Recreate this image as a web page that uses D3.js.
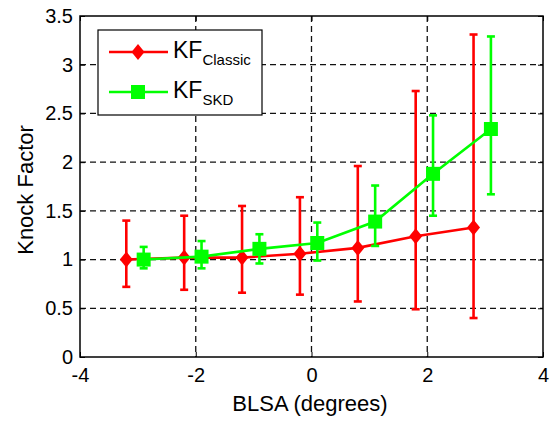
<!DOCTYPE html>
<html>
<head>
<meta charset="utf-8">
<script src="https://cdn.jsdelivr.net/npm/d3@7"></script>
<style>
  body { margin: 0; background: #fff; }
  svg { display: block; font-family: "Liberation Sans", Arial, sans-serif; }
</style>
</head>
<body>
<svg id="chart" width="551" height="423"></svg>
<script>
// values
const classicX    = [-3.2, -2.2, -1.2, -0.2, 0.8, 1.8, 2.8];
const classicMean = [1.00, 1.02, 1.02, 1.06, 1.12, 1.24, 1.33];
const classicLo   = [0.72, 0.69, 0.66, 0.64, 0.57, 0.49, 0.40];
const classicHi   = [1.40, 1.45, 1.55, 1.64, 1.96, 2.73, 3.31];

const skdX    = [-2.9, -1.9, -0.9, 0.1, 1.1, 2.1, 3.1];
const skdMean = [1.00, 1.03, 1.11, 1.17, 1.39, 1.88, 2.34];
const skdLo   = [0.91, 0.91, 0.96, 0.99, 1.14, 1.45, 1.67];
const skdHi   = [1.13, 1.19, 1.26, 1.38, 1.76, 2.48, 3.29];

const xTicks = [-4, -2, 0, 2, 4];
const yTicks = [0, 0.5, 1, 1.5, 2, 2.5, 3, 3.5];

const margin = { top: 16, right: 8, bottom: 66, left: 80 };
const W = 551, H = 423;
const w = W - margin.left - margin.right;
const h = H - margin.top - margin.bottom;

const svg = d3.select('#chart');
const g = svg.append('g').attr('transform', `translate(${margin.left},${margin.top})`);

const x = d3.scaleLinear().domain([-4, 4]).range([0, w]);
const y = d3.scaleLinear().domain([0, 3.5]).range([h, 0]);

// dashed grid
g.append('g').selectAll('line').data(xTicks.slice(1, -1)).join('line')
  .attr('x1', d => x(d)).attr('x2', d => x(d))
  .attr('y1', 0).attr('y2', h)
  .attr('stroke', '#111').attr('stroke-width', 1.3).attr('stroke-dasharray', '6,4');
g.append('g').selectAll('line').data(yTicks.slice(1, -1)).join('line')
  .attr('y1', d => y(d)).attr('y2', d => y(d))
  .attr('x1', 0).attr('x2', w)
  .attr('stroke', '#111').attr('stroke-width', 1.3).attr('stroke-dasharray', '6,4');

// axes with inward ticks
const fs = '20px';
g.append('g').attr('class', 'xaxis').attr('transform', `translate(0,${h})`)
  .call(d3.axisBottom(x).tickValues(xTicks).tickSizeInner(-5).tickSizeOuter(0).tickPadding(11)
    .tickFormat(d => String(d)));
g.append('g').attr('class', 'yaxis')
  .call(d3.axisLeft(y).tickValues(yTicks).tickSizeInner(-5).tickSizeOuter(0).tickPadding(7)
    .tickFormat(d => String(d)));
g.append('g').call(d3.axisTop(x).tickValues(xTicks).tickSizeInner(-5).tickSizeOuter(0).tickFormat(''));
g.append('g').attr('transform', `translate(${w},0)`)
  .call(d3.axisRight(y).tickValues(yTicks).tickSizeInner(-5).tickSizeOuter(0).tickFormat(''));

g.selectAll('.tick text').attr('font-size', fs).attr('fill', '#000')
  .attr('font-family', '"Liberation Sans", Arial, sans-serif');
g.selectAll('.domain').attr('stroke', 'none');
g.selectAll('.tick line').attr('stroke', '#000').attr('stroke-width', 1);

g.append('rect').attr('width', w).attr('height', h)
  .attr('fill', 'none').attr('stroke', '#000').attr('stroke-width', 1.5);

function drawSeries(xs, mean, lo, hi, color, marker) {
  const pts = xs.map((d, i) => ({ x: d, m: mean[i], lo: lo[i], hi: hi[i] }));
  const s = g.append('g');
  // error bars
  s.selectAll('.eb').data(pts).join('line')
    .attr('x1', d => x(d.x)).attr('x2', d => x(d.x))
    .attr('y1', d => y(d.lo)).attr('y2', d => y(d.hi))
    .attr('stroke', color).attr('stroke-width', 2.6);
  ['lo', 'hi'].forEach(k => {
    s.selectAll('.cap-' + k).data(pts).join('line')
      .attr('x1', d => x(d.x) - 4).attr('x2', d => x(d.x) + 4)
      .attr('y1', d => y(d[k])).attr('y2', d => y(d[k]))
      .attr('stroke', color).attr('stroke-width', 2.6);
  });
  s.append('path').datum(pts)
    .attr('fill', 'none').attr('stroke', color).attr('stroke-width', 2.6)
    .attr('d', d3.line().x(d => x(d.x)).y(d => y(d.m)));
  s.selectAll('.mk').data(pts).join('path')
    .attr('transform', d => `translate(${x(d.x)},${y(d.m)})`)
    .attr('d', marker)
    .attr('fill', color);
}

const diamond = 'M0,-8L6.5,0L0,8L-6.5,0Z';
const square = 'M-7,-7H7V7H-7Z';
drawSeries(classicX, classicMean, classicLo, classicHi, '#ff0000', diamond);
drawSeries(skdX, skdMean, skdLo, skdHi, '#00ff00', square);

// axis labels
svg.append('text').attr('x', 310).attr('y', 411)
  .attr('text-anchor', 'middle').attr('font-size', '22px').text('BLSA (degrees)');
svg.append('text').attr('transform', 'translate(33,190) rotate(-90)')
  .attr('text-anchor', 'middle').attr('font-size', '22px').text('Knock Factor');

// legend
const lg = svg.append('g').attr('transform', 'translate(98,30)');
lg.append('rect').attr('width', 164).attr('height', 85)
  .attr('fill', '#fff').attr('stroke', '#000').attr('stroke-width', 1.2);
const items = [
  { name: 'Classic', color: '#ff0000', marker: diamond, yy: 22 },
  { name: 'SKD', color: '#00ff00', marker: square, yy: 62 }
];
items.forEach(it => {
  lg.append('line').attr('x1', 11).attr('x2', 70).attr('y1', it.yy).attr('y2', it.yy)
    .attr('stroke', it.color).attr('stroke-width', 2.6);
  lg.append('path').attr('transform', `translate(40,${it.yy})`).attr('d', it.marker).attr('fill', it.color);
  const t = lg.append('text').attr('x', 75).attr('y', it.yy + 6).attr('font-size', '23px');
  t.append('tspan').text('KF');
  t.append('tspan').attr('dy', 7).attr('font-size', '15px').text(it.name);
});
</script>
</body>
</html>
